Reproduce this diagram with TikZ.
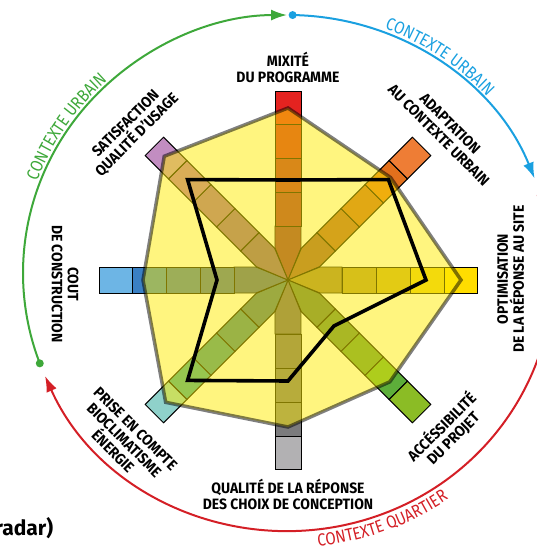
\documentclass[tikz,border=0pt]{standalone}
\usepackage{fontspec}
\setmainfont{Fira Sans}
\newfontfamily\condfont[FakeStretch=0.93]{Fira Sans}
\newfontfamily\arcfont[FakeStretch=0.86]{Fira Sans}
\usetikzlibrary{calc,arrows.meta,decorations.text}

\definecolor{yellowfill}{RGB}{255,236,0}
\definecolor{shade}{HTML}{463264}
\definecolor{ctxgreen}{HTML}{3EA83A}
\definecolor{ctxblue}{HTML}{1AA0E0}
\definecolor{ctxred}{HTML}{D41F26}
% bar colours: light end, dark second cell
\definecolor{mixL}{HTML}{E42320}   \definecolor{mixD}{HTML}{CF2024}
\definecolor{adaL}{HTML}{EE7D35}   \definecolor{adaD}{HTML}{E2701C}
\definecolor{optL}{HTML}{FFDD00}   \definecolor{optD}{HTML}{E8C81A}
\definecolor{accL}{HTML}{8BBC25}   \definecolor{accD}{HTML}{5DAE3A}
\definecolor{quaL}{HTML}{B2B1B3}   \definecolor{quaD}{HTML}{7B7B7D}
\definecolor{priL}{HTML}{8FD1CA}   \definecolor{priD}{HTML}{2FA0A0}
\definecolor{couL}{HTML}{6DB5E5}   \definecolor{couD}{HTML}{3A80C4}
\definecolor{satL}{HTML}{C28DC1}   \definecolor{satD}{HTML}{B56EB0}

\newcommand{\lblfont}{\condfont\bfseries\fontsize{15}{16}\selectfont}
\newcommand{\ringfont}{\arcfont\fontsize{17.5}{19}\selectfont}
\tikzset{cell/.style={draw=black,line width=0.9pt}}

% one axis of the radar: angle, light colour, dark colour
\newcommand{\radarbar}[3]{%
  \begin{scope}[rotate=#1]
    \filldraw[cell,fill=#3!50!shade] (0,0) -- (32,13) -- (54,13) -- (54,-13) -- (32,-13) -- cycle;
    \filldraw[cell,fill=#3!65!shade] (54,-13) rectangle (88,13);
    \filldraw[cell,fill=#3!80!shade] (88,-13) rectangle (122,13);
    \filldraw[cell,fill=#3] (122,-13) rectangle (156,13);
    \filldraw[cell,fill=#2] (156,-13) rectangle (189,13);
  \end{scope}}

\begin{document}
\begin{tikzpicture}[x=1pt,y=1pt,>={Latex[length=16pt,width=11pt]}]
  \tikzstyle{lbl}=[font=\lblfont,align=center,inner sep=0pt]
  \tikzstyle{dot}=[circle,inner sep=0pt,minimum size=8pt]
  \tikzstyle{ctx}=[line width=2pt,->]
  \tikzstyle{target}=[fill=yellowfill,fill opacity=0.5,draw=black,draw opacity=0.5,
                      line width=3.5pt,line join=miter]
  \tikzstyle{score}=[draw=black,line width=3.6pt,line join=miter]

  \useasboundingbox (-288,-269) rectangle (248,280);

  \radarbar{90}{mixL}{mixD}
  \radarbar{45}{adaL}{adaD}
  \radarbar{0}{optL}{optD}
  \radarbar{-45}{accL}{accD}
  \radarbar{-90}{quaL}{quaD}
  \radarbar{-135}{priL}{priD}
  \radarbar{180}{couL}{couD}
  \radarbar{135}{satL}{satD}

  \path[target] (90:172) -- (45:145) -- (0:173) -- (-45:144) -- (-90:147)
        -- (-135:173) -- (180:145) -- (135:175) -- cycle;
  \path[score] (90:100) -- (45:142) -- (0:138) -- (-45:65) -- (-90:101)
        -- (-135:142) -- (180:71) -- (135:142) -- cycle;

  \node[lbl] (mix) at (0,213) {MIXITÉ\\DU PROGRAMME};
  \node[lbl,rotate=-45] (ada) at (156.5,150.5) {ADAPTATION\\AU CONTEXTE URBAIN};
  \node[lbl,rotate=90] (opt) at (222.8,1) {OPTIMISATION\\DE LA RÉPONSE AU SITE};
  \node[lbl,rotate=45] (acc) at (159,-152.4) {ACCÉSSIBILITÉ\\DU PROJET};
  \node[lbl] (qua) at (0,-214.5) {QUALITÉ DE LA RÉPONSE\\DES CHOIX DE CONCEPTION};
  \node[lbl,rotate=-45] (pri) at (-163.8,-160) {PRISE EN COMPTE\\BIOCLIMATISME\\ÉNERGIE};
  \node[lbl,rotate=-90] (cou) at (-223,-4) {COUT\\DE CONSTRUCTION};
  \node[lbl,rotate=45] (sat) at (-156.3,150.4) {SATISFACTION\\QUALITÉ D’USAGE};

  % context ring
  \coordinate (ring) at (0,7);
  \node[dot] (gdot) at ($(ring)+(200.5:265 and 258)$) {};
  \node[dot] (bdot) at ($(ring)+(89:265 and 258)$) {};
  \node[dot] (rdot) at ($(ring)+(17.5:265 and 258)$) {};
  \draw[ctx,ctxgreen] (gdot.center) arc[start angle=200.5,end angle=90.2,x radius=265,y radius=258];
  \draw[ctx,ctxblue] (bdot.center) arc[start angle=89,end angle=21.5,x radius=265,y radius=258];
  \draw[ctx,ctxred] (rdot.center) arc[start angle=17.5,end angle=-156.5,x radius=265,y radius=258];
  \fill[ctxgreen] (gdot) circle[radius=4];
  \fill[ctxblue] (bdot) circle[radius=4];
  \fill[ctxred] (rdot) circle[radius=4];

  \path[decorate,decoration={text along path,text align=center,
        text={|\ringfont\color{ctxgreen}|CONTEXTE URBAIN}}]
    ($(ring)+(172:268 and 261)$) arc[start angle=172,end angle=120,x radius=268,y radius=261];
  \path[decorate,decoration={text along path,text align=center,
        text={|\ringfont\color{ctxblue}|CONTEXTE URBAIN}}]
    ($(ring)+(82:269 and 262)$) arc[start angle=82,end angle=29,x radius=269,y radius=262];
  \path[decorate,decoration={text along path,text align=center,
        text={|\ringfont\color{ctxred}|CONTEXTE QUARTIER}}]
    ($(ring)+(-98:282 and 275)$) arc[start angle=-98,end angle=-41,x radius=282,y radius=275];

  \node[anchor=base east,font=\fontsize{21}{24}\selectfont\bfseries] (cap) at (-231.3,-255) {radar)};
\end{tikzpicture}
\end{document}
